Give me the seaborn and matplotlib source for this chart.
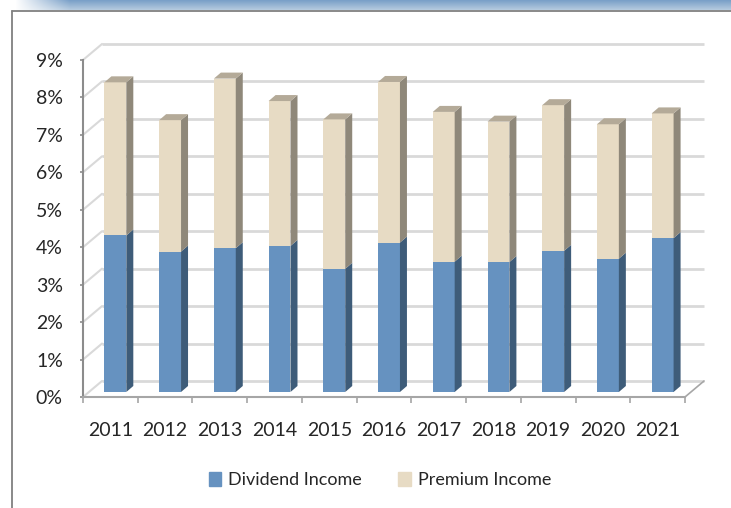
import numpy as np
import matplotlib
matplotlib.use("Agg")
import matplotlib.pyplot as plt
import matplotlib.colors as mcolors
from matplotlib.patches import Polygon, Patch
from matplotlib.lines import Line2D
import seaborn as sns

# Data (percent of value)
years = [str(y) for y in range(2011, 2022)]
dividend = [4.18, 3.75, 3.84, 3.90, 3.29, 3.99, 3.48, 3.47, 3.77, 3.56, 4.11]
premium = [4.09, 3.51, 4.53, 3.87, 3.99, 4.29, 4.00, 3.75, 3.89, 3.59, 3.33]
totals = [d + p for d, p in zip(dividend, premium)]
y_ticks = list(range(0, 10))

# Colours
BLUE, BLUE_SIDE = "#6692c0", "#3e5c79"
BEIGE, BEIGE_SIDE, BEIGE_TOP = "#e7dbc4", "#8f887a", "#b4aa98"
GRID, AXIS = "#d9d9d9", "#8c8c8c"

sns.set_style("white")
plt.rcParams['font.family'] = ['Lato', 'DejaVu Sans']
FS = 14

W, H = 731, 508
fig = plt.figure(figsize=(W / 100, H / 100), dpi=100)
ax_l, ax_r, ax_t, ax_b = 83, 685, 60, 397
ax = fig.add_axes([ax_l / W, 1 - ax_b / H, (ax_r - ax_l) / W, (ax_b - ax_t) / H])

sns.barplot(x=years, y=totals, color=BEIGE, saturation=1, width=0.4, ax=ax, linewidth=0)
sns.barplot(x=years, y=dividend, color=BLUE, saturation=1, width=0.4, ax=ax, linewidth=0)
ax.set_xlim(-0.5, len(years) - 0.5)
ax.set_ylim(0, 9)
ax.set_xlabel("")
ax.set_ylabel("")

# pixel -> data conversion for the fake depth
sx = (ax_r - ax_l) / len(years)
sy = (ax_b - ax_t) / 9.0
def ux(px): return px / sx
def uy(px): return px / sy

DEPTH_X, DEPTH_Y = 19, 16     # back wall offset
BAR_X, BAR_Y = 5, 5           # bars sit a bit behind the front plane
SIDE_X, SIDE_Y = 7, 6         # bar depth

# back wall grid + side wall diagonals
x0, x1 = -0.5, len(years) - 0.5
for v in y_ticks:
    ax.plot([x0 + ux(DEPTH_X), x1 + ux(DEPTH_X)], [v + uy(DEPTH_Y)] * 2,
            color=GRID, lw=2, clip_on=False, zorder=0.5, solid_capstyle='butt')
    ax.plot([x0, x0 + ux(DEPTH_X)], [v, v + uy(DEPTH_Y)],
            color=GRID, lw=1.5, clip_on=False, zorder=0.5)
# floor right edge
ax.plot([x1, x1 + ux(DEPTH_X)], [0, uy(DEPTH_Y)], color="#a6a6a6", lw=1.2, clip_on=False, zorder=0.6)

# shift bars and add side / top faces
bars = list(ax.patches)
n = len(years)
for p in bars:
    p.set_x(p.get_x() + ux(BAR_X))
    p.set_y(p.get_y() + uy(BAR_Y))
    p.set_zorder(3)
    p.set_clip_on(False)
dx, dy = ux(SIDE_X), uy(SIDE_Y)
for i in range(n):
    top_bar, low_bar = bars[i], bars[n + i]
    bx0 = top_bar.get_x()
    bx1 = bx0 + top_bar.get_width()
    b0 = top_bar.get_y()
    d = low_bar.get_y() + low_bar.get_height()
    t = top_bar.get_y() + top_bar.get_height()
    faces = [
        ([(bx1, b0), (bx1 + dx, b0 + dy), (bx1 + dx, d + dy), (bx1, d)], BLUE_SIDE),
        ([(bx1, d), (bx1 + dx, d + dy), (bx1 + dx, t + dy), (bx1, t)], BEIGE_SIDE),
        ([(bx0, t), (bx0 + dx, t + dy), (bx1 + dx, t + dy), (bx1, t)], BEIGE_TOP),
    ]
    for verts, c in faces:
        ax.add_patch(Polygon(verts, closed=True, facecolor=c, edgecolor='none',
                             zorder=3, clip_on=False))

# axes styling
for s in ['top', 'right']:
    ax.spines[s].set_visible(False)
ax.spines['left'].set_color(AXIS)
ax.spines['left'].set_linewidth(1.5)
ax.spines['bottom'].set_color("#a6a6a6")
ax.spines['bottom'].set_linewidth(1.5)
ax.set_yticks(y_ticks)
ax.set_yticklabels([f"{v}%" for v in y_ticks])
ax.tick_params(axis='y', which='major', direction='out', length=2.5, width=1.2,
               color=AXIS, pad=12, labelsize=FS, left=True)
ax.set_xticks(np.arange(-0.5, n, 1.0), minor=True)
ax.tick_params(axis='x', which='major', length=0, pad=18, labelsize=FS)
ax.tick_params(axis='x', which='minor', direction='out', length=4.5, width=1.2,
               color="#a6a6a6", bottom=True)
ax.set_facecolor('none')

# legend
handles = [Patch(color=BLUE, label='Dividend Income'), Patch(color=BEIGE, label='Premium Income')]
fig.legend(handles=handles, loc='center', bbox_to_anchor=(380 / W, 1 - 480 / H), ncol=2,
           frameon=False, fontsize=13, handlelength=0.7, handleheight=0.85,
           handletextpad=0.4, columnspacing=2.0)

# chart frame
fig.add_artist(Line2D([11.5 / W, 1], [1 - 11 / H] * 2, transform=fig.transFigure, color="#808080", lw=1.3))
fig.add_artist(Line2D([11.5 / W] * 2, [0, 1 - 11 / H], transform=fig.transFigure, color="#808080", lw=1.3))

# blue banner at top
bax = fig.add_axes([0, 1 - 10 / H, 1, 10 / H])
top_c = np.array(mcolors.to_rgb("#7aa0c8"))
bot_c = np.array(mcolors.to_rgb("#b3c9de"))
rows = np.linspace(0, 1, 10)[:, None, None]
img = top_c * (1 - rows) + bot_c * rows
img = np.repeat(img, W, axis=1)
alpha = np.clip((np.arange(W) - 15) / 55.0, 0, 1)[None, :, None]
img = img * alpha + (1 - alpha)
bax.imshow(img, aspect='auto', extent=(0, W, 10, 0))
bax.axis('off')

fig.savefig("out.png", dpi=100)
